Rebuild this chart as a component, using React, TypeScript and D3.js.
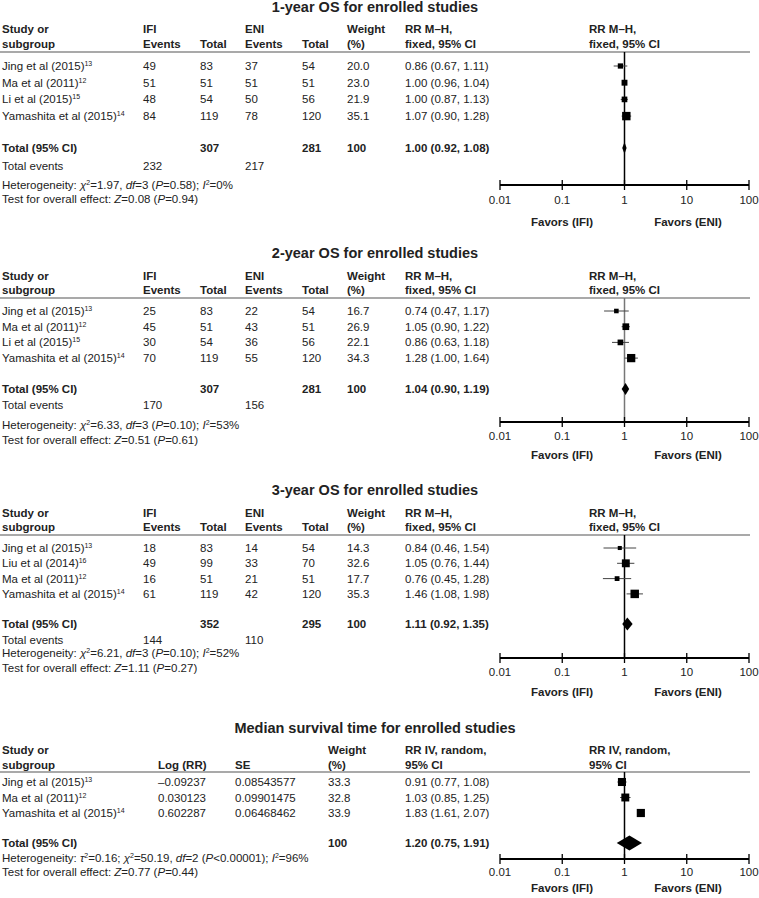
import React from "react";
import * as d3 from "d3";

// ---- 1-year OS ----
const studies1 = ["Jing et al (2015)", "Ma et al (2011)", "Li et al (2015)", "Yamashita et al (2015)"];
const refs1 = ["13", "12", "15", "14"];
const ifiEvents1 = [49, 51, 48, 84];
const ifiTotal1 = [83, 51, 54, 119];
const eniEvents1 = [37, 51, 50, 78];
const eniTotal1 = [54, 51, 56, 120];
const weight1 = [20.0, 23.0, 21.9, 35.1];
const rr1 = [0.86, 1.0, 1.0, 1.07];
const lo1 = [0.67, 0.96, 0.87, 0.9];
const hi1 = [1.11, 1.04, 1.13, 1.28];
const pooled1 = [1.0, 0.92, 1.08];
const sums1 = [307, 281];
const events1 = [232, 217];

// ---- 2-year OS ----
const studies2 = ["Jing et al (2015)", "Ma et al (2011)", "Li et al (2015)", "Yamashita et al (2015)"];
const refs2 = ["13", "12", "15", "14"];
const ifiEvents2 = [25, 45, 30, 70];
const ifiTotal2 = [83, 51, 54, 119];
const eniEvents2 = [22, 43, 36, 55];
const eniTotal2 = [54, 51, 56, 120];
const weight2 = [16.7, 26.9, 22.1, 34.3];
const rr2 = [0.74, 1.05, 0.86, 1.28];
const lo2 = [0.47, 0.9, 0.63, 1.0];
const hi2 = [1.17, 1.22, 1.18, 1.64];
const pooled2 = [1.04, 0.9, 1.19];
const sums2 = [307, 281];
const events2 = [170, 156];

// ---- 3-year OS ----
const studies3 = ["Jing et al (2015)", "Liu et al (2014)", "Ma et al (2011)", "Yamashita et al (2015)"];
const refs3 = ["13", "16", "12", "14"];
const ifiEvents3 = [18, 49, 16, 61];
const ifiTotal3 = [83, 99, 51, 119];
const eniEvents3 = [14, 33, 21, 42];
const eniTotal3 = [54, 70, 51, 120];
const weight3 = [14.3, 32.6, 17.7, 35.3];
const rr3 = [0.84, 1.05, 0.76, 1.46];
const lo3 = [0.46, 0.76, 0.45, 1.08];
const hi3 = [1.54, 1.44, 1.28, 1.98];
const pooled3 = [1.11, 0.92, 1.35];
const sums3 = [352, 295];
const events3 = [144, 110];

// ---- median survival ----
const studies4 = ["Jing et al (2015)", "Ma et al (2011)", "Yamashita et al (2015)"];
const refs4 = ["13", "12", "14"];
const logRR4 = ["\u20130.09237", "0.030123", "0.602287"];
const se4 = ["0.08543577", "0.09901475", "0.06468462"];
const weight4 = [33.3, 32.8, 33.9];
const rr4 = [0.91, 1.03, 1.83];
const lo4 = [0.77, 0.85, 1.61];
const hi4 = [1.08, 1.25, 2.07];
const pooled4 = [1.2, 0.75, 1.91];

const ticks = [0.01, 0.1, 1, 10, 100];
const tickLabels = ["0.01", "0.1", "1", "10", "100"];

type Seg = [string, string?];
const het1: Seg[] = [["Heterogeneity: "], ["\u03c7", "i"], ["2", "s"], ["=1.97, "], ["df", "i"], ["=3 ("], ["P", "i"], ["=0.58); "], ["I", "i"], ["2", "s"], ["=0%"]];
const test1: Seg[] = [["Test for overall effect: "], ["Z", "i"], ["=0.08 ("], ["P", "i"], ["=0.94)"]];
const het2: Seg[] = [["Heterogeneity: "], ["\u03c7", "i"], ["2", "s"], ["=6.33, "], ["df", "i"], ["=3 ("], ["P", "i"], ["=0.10); "], ["I", "i"], ["2", "s"], ["=53%"]];
const test2: Seg[] = [["Test for overall effect: "], ["Z", "i"], ["=0.51 ("], ["P", "i"], ["=0.61)"]];
const het3: Seg[] = [["Heterogeneity: "], ["\u03c7", "i"], ["2", "s"], ["=6.21, "], ["df", "i"], ["=3 ("], ["P", "i"], ["=0.10); "], ["I", "i"], ["2", "s"], ["=52%"]];
const test3: Seg[] = [["Test for overall effect: "], ["Z", "i"], ["=1.11 ("], ["P", "i"], ["=0.27)"]];
const het4: Seg[] = [["Heterogeneity: "], ["\u03c4", "i"], ["2", "s"], ["=0.16; "], ["\u03c7", "i"], ["2", "s"], ["=50.19, "], ["df", "i"], ["=2 ("], ["P", "i"], ["<0.00001); "], ["I", "i"], ["2", "s"], ["=96%"]];
const test4: Seg[] = [["Test for overall effect: "], ["Z", "i"], ["=0.77 ("], ["P", "i"], ["=0.44)"]];

const FONT = "'Liberation Sans', Arial, Helvetica, sans-serif";
const W = 759;
const H = 898;

const x = d3.scaleLog().domain([0.01, 100]).range([500, 749]);
const boxSize = d3.scaleLinear().domain([14, 35]).range([4, 8.4]);

const ci = (r: number, l: number, h: number) => `${r.toFixed(2)} (${l.toFixed(2)}, ${h.toFixed(2)})`;

function Rich({ x, y, segs }: { x: number; y: number; segs: Seg[] }) {
  let up = false;
  return (
    <text x={x} y={y} dy="0.35em">
      {segs.map(([t, s], i) => {
        let dy: number | undefined;
        if (s === "s" && !up) { dy = -4; up = true; }
        else if (s !== "s" && up) { dy = 4; up = false; }
        return (
          <tspan key={i} dy={dy} fontSize={s === "s" ? 7 : undefined} fontStyle={s === "i" ? "italic" : undefined}>
            {t}
          </tspan>
        );
      })}
    </text>
  );
}

type Col = { x: number; h1: string; h2: string };
type Layout = { title: number; h1: number; h2: number; line: number; row0: number; step: number; total: number; events: number; het: number; test: number; axis: number; labels: number; favors: number };

type PanelProps = {
  title: string;
  cols: Col[];
  cells: (string | number)[][]; // one per column, per row
  studies: string[];
  refs: string[];
  weight: number[];
  rr: number[];
  lo: number[];
  hi: number[];
  pooled: number[];
  totalCells: { x: number; t: string }[];
  eventCells: { x: number; t: string }[] | null;
  method: [string, string];
  het: Seg[];
  test: Seg[];
  L: Layout;
  refColor: string;
  diamondH: number;
};

function ForestPanel(p: PanelProps) {
  const { L } = p;
  const rowY = (i: number) => L.row0 + i * L.step;
  const ciX = 405;
  const plotHeadX = 589;
  const [pr, pl, ph] = p.pooled;
  return (
    <g>
      <text x={375} y={L.title} dy="0.35em" textAnchor="middle" fontWeight="bold" fontSize={14.5}>{p.title}</text>
      {/* headers */}
      <g fontWeight="bold">
        <text x={2} y={L.h1} dy="0.35em">Study or</text>
        <text x={2} y={L.h2} dy="0.35em">subgroup</text>
        {p.cols.map((c, i) => (
          <g key={i}>
            {c.h1 && <text x={c.x} y={L.h1} dy="0.35em">{c.h1}</text>}
            <text x={c.x} y={L.h2} dy="0.35em">{c.h2}</text>
          </g>
        ))}
        <text x={ciX} y={L.h1} dy="0.35em">{p.method[0]}</text>
        <text x={ciX} y={L.h2} dy="0.35em">{p.method[1]}</text>
        <text x={plotHeadX} y={L.h1} dy="0.35em">{p.method[0]}</text>
        <text x={plotHeadX} y={L.h2} dy="0.35em">{p.method[1]}</text>
      </g>
      <line x1={0} x2={750} y1={L.line} y2={L.line} stroke="#555" strokeWidth={1.2} />
      {/* rows */}
      {p.studies.map((s, i) => (
        <g key={s}>
          <text x={2} y={rowY(i)} dy="0.35em">
            {s}
            <tspan fontSize={7} dy={-4}>{p.refs[i]}</tspan>
          </text>
          {p.cols.map((c, j) => (
            <text key={j} x={c.x} y={rowY(i)} dy="0.35em">{p.cells[j][i]}</text>
          ))}
          <text x={ciX} y={rowY(i)} dy="0.35em">{ci(p.rr[i], p.lo[i], p.hi[i])}</text>
        </g>
      ))}
      {/* total */}
      <g fontWeight="bold">
        <text x={2} y={L.total} dy="0.35em">Total (95% CI)</text>
        {p.totalCells.map((c, i) => (
          <text key={i} x={c.x} y={L.total} dy="0.35em">{c.t}</text>
        ))}
        <text x={ciX} y={L.total} dy="0.35em">{ci(pr, pl, ph)}</text>
      </g>
      {p.eventCells && (
        <g>
          <text x={2} y={L.events} dy="0.35em">Total events</text>
          {p.eventCells.map((c, i) => (
            <text key={i} x={c.x} y={L.events} dy="0.35em">{c.t}</text>
          ))}
        </g>
      )}
      <Rich x={2} y={L.het} segs={p.het} />
      <Rich x={2} y={L.test} segs={p.test} />

      {/* plot */}
      <line x1={x(1)} x2={x(1)} y1={L.line} y2={L.axis} stroke={p.refColor} strokeWidth={1.5} />
      {p.studies.map((s, i) => {
        const sz = boxSize(p.weight[i]);
        return (
          <g key={"m" + s}>
            <line x1={x(p.lo[i])} x2={x(p.hi[i])} y1={rowY(i)} y2={rowY(i)} stroke="#444" strokeWidth={1} />
            <rect x={x(p.rr[i]) - sz / 2} y={rowY(i) - sz / 2} width={sz} height={sz} fill="#000" />
          </g>
        );
      })}
      <path
        d={`M${x(pl)},${L.total}L${x(pr)},${L.total - p.diamondH}L${x(ph)},${L.total}L${x(pr)},${L.total + p.diamondH}Z`}
        fill="#000"
      />
      {/* axis */}
      <line x1={x(0.01)} x2={x(100)} y1={L.axis} y2={L.axis} stroke="#000" strokeWidth={2} />
      {ticks.map((t, i) => (
        <g key={t}>
          <line x1={x(t)} x2={x(t)} y1={L.axis - 5} y2={L.axis + 5} stroke="#000" strokeWidth={1.3} />
          <text x={x(t)} y={L.labels} dy="0.35em" textAnchor="middle">{tickLabels[i]}</text>
        </g>
      ))}
      <text x={562} y={L.favors} dy="0.35em" textAnchor="middle" fontWeight="bold">Favors (IFI)</text>
      <text x={688} y={L.favors} dy="0.35em" textAnchor="middle" fontWeight="bold">Favors (ENI)</text>
    </g>
  );
}

const colsOS: Col[] = [
  { x: 143, h1: "IFI", h2: "Events" },
  { x: 200, h1: "", h2: "Total" },
  { x: 245, h1: "ENI", h2: "Events" },
  { x: 302, h1: "", h2: "Total" },
  { x: 347, h1: "Weight", h2: "(%)" },
];
const cols4: Col[] = [
  { x: 158, h1: "", h2: "Log (RR)" },
  { x: 235, h1: "", h2: "SE" },
  { x: 328, h1: "Weight", h2: "(%)" },
];

const mh: [string, string] = ["RR M\u2013H,", "fixed, 95% CI"];
const iv: [string, string] = ["RR IV, random,", "95% CI"];

const L1: Layout = { title: 7, h1: 29, h2: 44, line: 52, row0: 66, step: 16.7, total: 148, events: 166, het: 185, test: 199, axis: 185, labels: 200, favors: 222 };
const L2: Layout = { title: 253, h1: 276, h2: 290, line: 298, row0: 311, step: 15.7, total: 389, events: 405, het: 425, test: 440, axis: 422, labels: 436, favors: 455 };
const L3: Layout = { title: 490, h1: 513, h2: 527, line: 535, row0: 548, step: 15.3, total: 624, events: 640, het: 653, test: 668, axis: 658, labels: 672, favors: 692 };
const L4: Layout = { title: 728, h1: 750, h2: 765, line: 772, row0: 782, step: 15.5, total: 843, events: 0, het: 858, test: 872, axis: 859, labels: 872, favors: 888 };

const fmtW = (w: number[]) => w.map((v) => v.toFixed(1));

export default function App() {
  return (
    <svg width={W} height={H} style={{ position: "absolute", left: 0, top: 0, background: "#fff" }} fontFamily={FONT} fontSize={11.5} fill="#222">
      <ForestPanel
        title="1-year OS for enrolled studies"
        cols={colsOS}
        cells={[ifiEvents1, ifiTotal1, eniEvents1, eniTotal1, fmtW(weight1)]}
        studies={studies1} refs={refs1} weight={weight1} rr={rr1} lo={lo1} hi={hi1} pooled={pooled1}
        totalCells={[{ x: 200, t: String(sums1[0]) }, { x: 302, t: String(sums1[1]) }, { x: 347, t: "100" }]}
        eventCells={[{ x: 143, t: String(events1[0]) }, { x: 245, t: String(events1[1]) }]}
        method={mh} het={het1} test={test1} L={L1} refColor="#000" diamondH={6}
      />
      <ForestPanel
        title="2-year OS for enrolled studies"
        cols={colsOS}
        cells={[ifiEvents2, ifiTotal2, eniEvents2, eniTotal2, fmtW(weight2)]}
        studies={studies2} refs={refs2} weight={weight2} rr={rr2} lo={lo2} hi={hi2} pooled={pooled2}
        totalCells={[{ x: 200, t: String(sums2[0]) }, { x: 302, t: String(sums2[1]) }, { x: 347, t: "100" }]}
        eventCells={[{ x: 143, t: String(events2[0]) }, { x: 245, t: String(events2[1]) }]}
        method={mh} het={het2} test={test2} L={L2} refColor="#777" diamondH={6}
      />
      <ForestPanel
        title="3-year OS for enrolled studies"
        cols={colsOS}
        cells={[ifiEvents3, ifiTotal3, eniEvents3, eniTotal3, fmtW(weight3)]}
        studies={studies3} refs={refs3} weight={weight3} rr={rr3} lo={lo3} hi={hi3} pooled={pooled3}
        totalCells={[{ x: 200, t: String(sums3[0]) }, { x: 302, t: String(sums3[1]) }, { x: 347, t: "100" }]}
        eventCells={[{ x: 143, t: String(events3[0]) }, { x: 245, t: String(events3[1]) }]}
        method={mh} het={het3} test={test3} L={L3} refColor="#000" diamondH={6.5}
      />
      <ForestPanel
        title="Median survival time for enrolled studies"
        cols={cols4}
        cells={[logRR4, se4, fmtW(weight4)]}
        studies={studies4} refs={refs4} weight={weight4} rr={rr4} lo={lo4} hi={hi4} pooled={pooled4}
        totalCells={[{ x: 328, t: "100" }]}
        eventCells={null}
        method={iv} het={het4} test={test4} L={L4} refColor="#000" diamondH={7.5}
      />
    </svg>
  );
}
